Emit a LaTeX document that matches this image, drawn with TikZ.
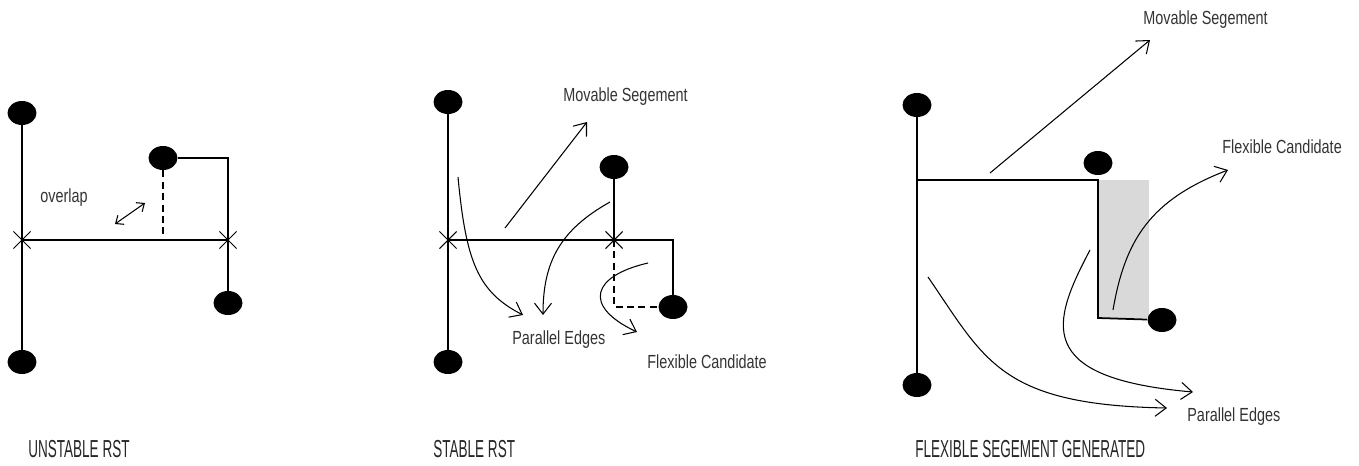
\documentclass[tikz,border=0pt]{standalone}
\usepackage{fontspec}
\usepackage{tikz}
\usetikzlibrary{arrows.meta,shapes.geometric,shapes.misc}
\newfontfamily\lblfont[FakeStretch=0.76]{Liberation Sans}
\newfontfamily\capfont[FakeStretch=0.55]{Liberation Sans}
\tikzset{>={Straight Barb[length=2.2mm,width=3.4mm]}}
\tikzset{
  dot/.style={ellipse,fill=black,inner sep=0pt,minimum width=0.58cm,minimum height=0.48cm},
  xmark/.style={cross out,draw=black,line width=0.6pt,inner sep=0pt,minimum size=0.32cm},
  wire/.style={line width=1pt},
  dashwire/.style={line width=1pt,dash pattern=on 4pt off 2.5pt},
  ptr/.style={->,line width=0.6pt},
  lbl/.style={anchor=west,inner sep=0pt,text=black!80,font=\lblfont\fontsize{10.8}{12}\selectfont},
  caption/.style={anchor=west,inner sep=0pt,text=black!85,font=\capfont\fontsize{14}{16}\selectfont}
}

\begin{document}
\begin{tikzpicture}[x=0.02cm,y=-0.02cm]
\useasboundingbox (0,0) rectangle (1359,466);

% unstable RST
\node[dot] (a1) at (22,113) {};
\node[dot] (a2) at (22,362) {};
\node[xmark] (ax1) at (22,240) {};
\node[xmark] (ax2) at (228,240) {};
\node[dot] (a3) at (163,158) {};
\node[dot] (a4) at (228,303) {};
\draw[wire] (a1) -- (a2);
\draw[wire] (ax1.center) -- (ax2.center);
\draw[wire] (a3) -- (a3 -| ax2) -- (ax2.center) -- (a4);
\draw[dashwire] (a3.south) -- (a3.south |- ax1);
\node[lbl] (ovl) at (40,198) {overlap};
\coordinate (ov1) at (115,224);
\coordinate (ov2) at (145,203);
\draw[line width=0.6pt,{Straight Barb[length=1.3mm,width=2.2mm]}-{Straight Barb[length=1.3mm,width=2.2mm]}] (ov1) -- (ov2);
\node[caption] (cap1) at (28,449) {UNSTABLE RST};

% stable RST
\node[dot] (b1) at (448,102) {};
\node[dot] (b2) at (448,362) {};
\node[xmark] (bx1) at (448,240) {};
\node[dot] (b3) at (614,167) {};
\node[xmark] (bx2) at (614,240) {};
\node[dot] (b4) at (673,307) {};
\draw[wire] (b1) -- (b2);
\draw[wire] (bx1.center) -- (b4 |- bx1) -- (b4);
\draw[wire] (b3) -- (bx2.center);
\draw[dashwire] (bx2.center) -- (bx2 |- b4) -- (b4);
\node[lbl] (bmov) at (563,97) {Movable Segement};
\node[lbl] (bpar) at (512,340) {Parallel Edges};
\node[lbl] (bflex) at (647,362) {Flexible Candidate};
\coordinate (bm0) at (505,228);
\coordinate (bm1) at (587,122);
\draw[ptr] (bm0) -- (bm1);
\coordinate (bp0) at (458,177);
\coordinate (bp1) at (523,315);
\draw[ptr] (bp0) .. controls (466,262) and (478,292) .. (bp1);
\coordinate (bq0) at (610,202);
\coordinate (bq1) at (543,315);
\draw[ptr] (bq0) .. controls (560,230) and (543,262) .. (bq1);
\coordinate (bf0) at (648,263);
\coordinate (bf1) at (637,332);
\draw[ptr] (bf0) .. controls (592,276) and (582,306) .. (bf1);
\node[caption] (cap2) at (433,449) {STABLE RST};

% flexible segment
\fill[black!15] (1098,180) rectangle (1149,318);
\node[dot] (c1) at (917,105) {};
\node[dot] (c2) at (917,385) {};
\node[dot] (c3) at (1098,163) {};
\node[dot] (c4) at (1162,320) {};
\coordinate (cj) at (917,180);
\coordinate (ck) at (1098,180);
\coordinate (cl) at (1098,318);
\draw[wire] (c1) -- (c2);
\draw[wire] (cj) -- (ck) -- (cl) -- (c4);
\node[lbl] (cmov) at (1143,20) {Movable Segement};
\node[lbl] (cflex) at (1222,147) {Flexible Candidate};
\node[lbl] (cpar) at (1187,417) {Parallel Edges};
\coordinate (cm0) at (990,173);
\coordinate (cm1) at (1150,40);
\draw[ptr] (cm0) -- (cm1);
\coordinate (cf0) at (1113,310);
\coordinate (cf1) at (1228,170);
\draw[ptr] (cf0) .. controls (1125,240) and (1150,200) .. (cf1);
\coordinate (cp0) at (1090,250);
\coordinate (cp1) at (1193,392);
\draw[ptr] (cp0) .. controls (1052,322) and (1032,378) .. (cp1);
\coordinate (cq0) at (928,277);
\coordinate (cq1) at (1167,408);
\draw[ptr] (cq0) .. controls (985,360) and (1000,405) .. (cq1);
\node[caption] (cap3) at (915,449) {FLEXIBLE SEGEMENT GENERATED};
\end{tikzpicture}
\end{document}
